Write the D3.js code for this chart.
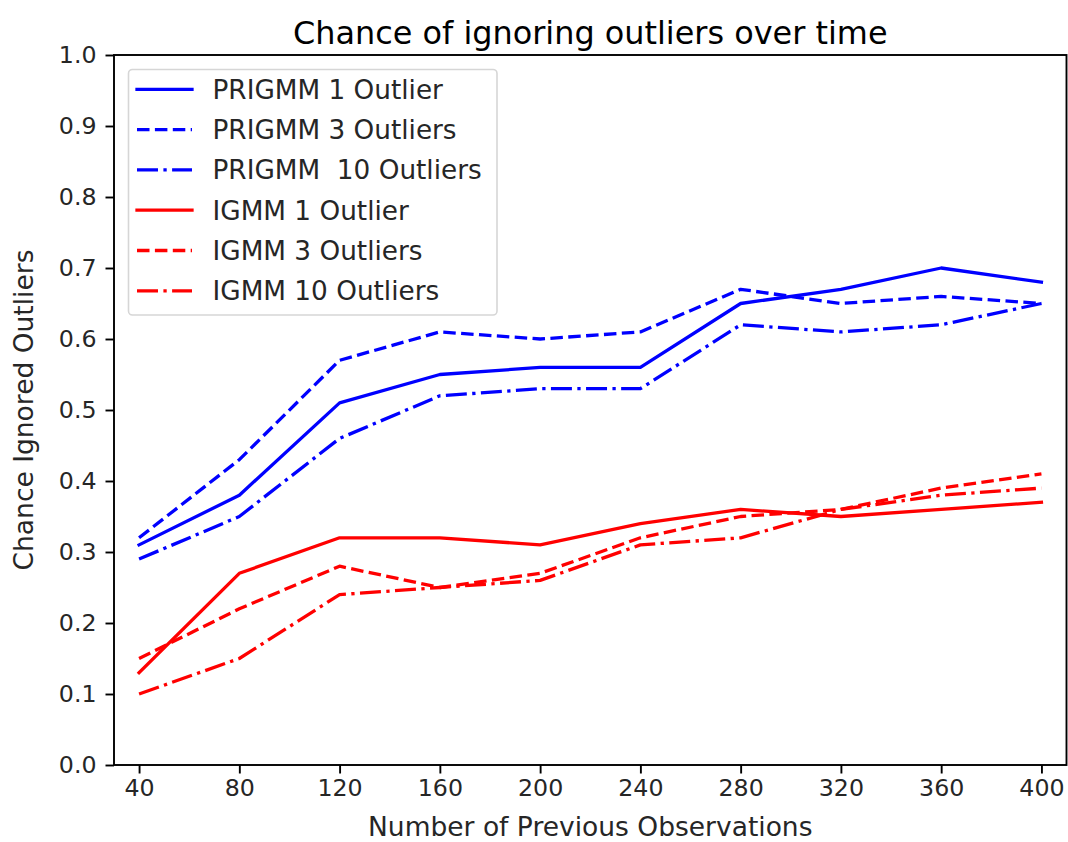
<!DOCTYPE html>
<html>
<head>
<meta charset="utf-8">
<script src="https://cdn.jsdelivr.net/npm/d3@7"></script>
<style>
  html, body { margin: 0; padding: 0; background: #fff; }
  svg { display: block; font-family: "DejaVu Sans", sans-serif; }
</style>
</head>
<body>
<svg id="chart" width="1068" height="842"></svg>
<script>
// ---- data ----
const observations = [40, 80, 120, 160, 200, 240, 280, 320, 360, 400];
const prigmm1  = [0.31, 0.38, 0.51, 0.55, 0.56, 0.56, 0.65, 0.67, 0.70, 0.68];
const prigmm3  = [0.32, 0.43, 0.57, 0.61, 0.60, 0.61, 0.67, 0.65, 0.66, 0.65];
const prigmm10 = [0.29, 0.35, 0.46, 0.52, 0.53, 0.53, 0.62, 0.61, 0.62, 0.65];
const igmm1    = [0.13, 0.27, 0.32, 0.32, 0.31, 0.34, 0.36, 0.35, 0.36, 0.37];
const igmm3    = [0.15, 0.22, 0.28, 0.25, 0.27, 0.32, 0.35, 0.36, 0.39, 0.41];
const igmm10   = [0.10, 0.15, 0.24, 0.25, 0.26, 0.31, 0.32, 0.36, 0.38, 0.39];
const seriesNames = ["PRIGMM 1 Outlier", "PRIGMM 3 Outliers", "PRIGMM  10 Outliers",
                     "IGMM 1 Outlier", "IGMM 3 Outliers", "IGMM 10 Outliers"];
const xTicks = [40, 80, 120, 160, 200, 240, 280, 320, 360, 400];
const yTicks = [0.0, 0.1, 0.2, 0.3, 0.4, 0.5, 0.6, 0.7, 0.8, 0.9, 1.0];
const titleText = "Chance of ignoring outliers over time";
const xLabelText = "Number of Previous Observations";
const yLabelText = "Chance Ignored Outliers";

// ---- styles ----
const dashSolid = null;
const dashDashed = "12.5,5.4";
const dashDashDot = "21,5.4,3.3,5.4";
const series = [
  { name: seriesNames[0], values: prigmm1,  color: "#0000ff", dash: dashSolid },
  { name: seriesNames[1], values: prigmm3,  color: "#0000ff", dash: dashDashed },
  { name: seriesNames[2], values: prigmm10, color: "#0000ff", dash: dashDashDot },
  { name: seriesNames[3], values: igmm1,    color: "#ff0000", dash: dashSolid },
  { name: seriesNames[4], values: igmm3,    color: "#ff0000", dash: dashDashed },
  { name: seriesNames[5], values: igmm10,   color: "#ff0000", dash: dashDashDot },
];

const svg = d3.select("#chart");
const L = 114, R = 1066.5, T = 55, B = 765;
const x = d3.scaleLinear().domain([30, 410]).range([L, R]);
const y = d3.scaleLinear().domain([0, 1]).range([B, T]);

const lw = 3.3;
const line = d3.line().x((d, i) => x(observations[i])).y(d => y(d));

const plot = svg.append("g");
plot.append("clipPath").attr("id", "clip").append("rect")
  .attr("x", L).attr("y", T).attr("width", R - L).attr("height", B - T);

series.forEach(s => {
  plot.append("path")
    .datum(s.values)
    .attr("d", line)
    .attr("fill", "none")
    .attr("stroke", s.color)
    .attr("stroke-width", lw)
    .attr("stroke-linejoin", "round")
    .attr("stroke-linecap", s.dash ? "butt" : "square")
    .attr("stroke-dasharray", s.dash)
    .attr("clip-path", "url(#clip)");
});

// axes
const tickFont = 23.7;
const xAxis = d3.axisBottom(x).tickValues(xTicks).tickFormat(d3.format("d"))
  .tickSizeInner(8.5).tickSizeOuter(0).tickPadding(6);
const yAxis = d3.axisLeft(y).tickValues(yTicks).tickFormat(d3.format(".1f"))
  .tickSizeInner(8.5).tickSizeOuter(0).tickPadding(9);

const gx = svg.append("g").attr("transform", `translate(0,${B})`).call(xAxis);
const gy = svg.append("g").attr("transform", `translate(${L},0)`).call(yAxis);
[gx, gy].forEach(g => {
  g.select(".domain").remove();
  g.selectAll(".tick line").attr("stroke", "#000").attr("stroke-width", 1.9);
  g.selectAll(".tick text").attr("fill", "#262626")
    .style("font-family", "'DejaVu Sans', sans-serif").style("font-size", tickFont + "px");
});

// frame
svg.append("rect").attr("x", L).attr("y", T).attr("width", R - L).attr("height", B - T)
  .attr("fill", "none").attr("stroke", "#000").attr("stroke-width", 1.9);

// title and labels
svg.append("text").attr("x", (L + R) / 2).attr("y", 44)
  .attr("text-anchor", "middle").style("font-size", "31.9px").attr("fill", "#000")
  .text(titleText);
svg.append("text").attr("x", (L + R) / 2).attr("y", 836)
  .attr("text-anchor", "middle").style("font-size", "26.5px").attr("fill", "#262626")
  .text(xLabelText);
svg.append("text").attr("transform", `translate(33,${(T + B) / 2}) rotate(-90)`)
  .attr("text-anchor", "middle").style("font-size", "26.5px").attr("fill", "#262626")
  .text(yLabelText);

// legend
const lg = svg.append("g");
lg.append("rect").attr("x", 128.5).attr("y", 69.5).attr("width", 368.5).attr("height", 245.5)
  .attr("rx", 4).attr("fill", "#fff").attr("fill-opacity", 0.8)
  .attr("stroke", "#d6d6d6").attr("stroke-width", 1.6);
series.forEach((s, i) => {
  const yy = 89.3 + i * 40.3;
  lg.append("line").attr("x1", 137).attr("x2", 192).attr("y1", yy).attr("y2", yy)
    .attr("stroke", s.color).attr("stroke-width", lw)
    .attr("stroke-dasharray", s.dash).attr("stroke-linecap", s.dash ? "butt" : "square");
  lg.append("text").attr("x", 212.5).attr("y", yy + 9.3)
    .style("font-size", "26.3px").attr("fill", "#262626").attr("xml:space", "preserve")
    .style("white-space", "pre")
    .text(s.name);
});
</script>
</body>
</html>
